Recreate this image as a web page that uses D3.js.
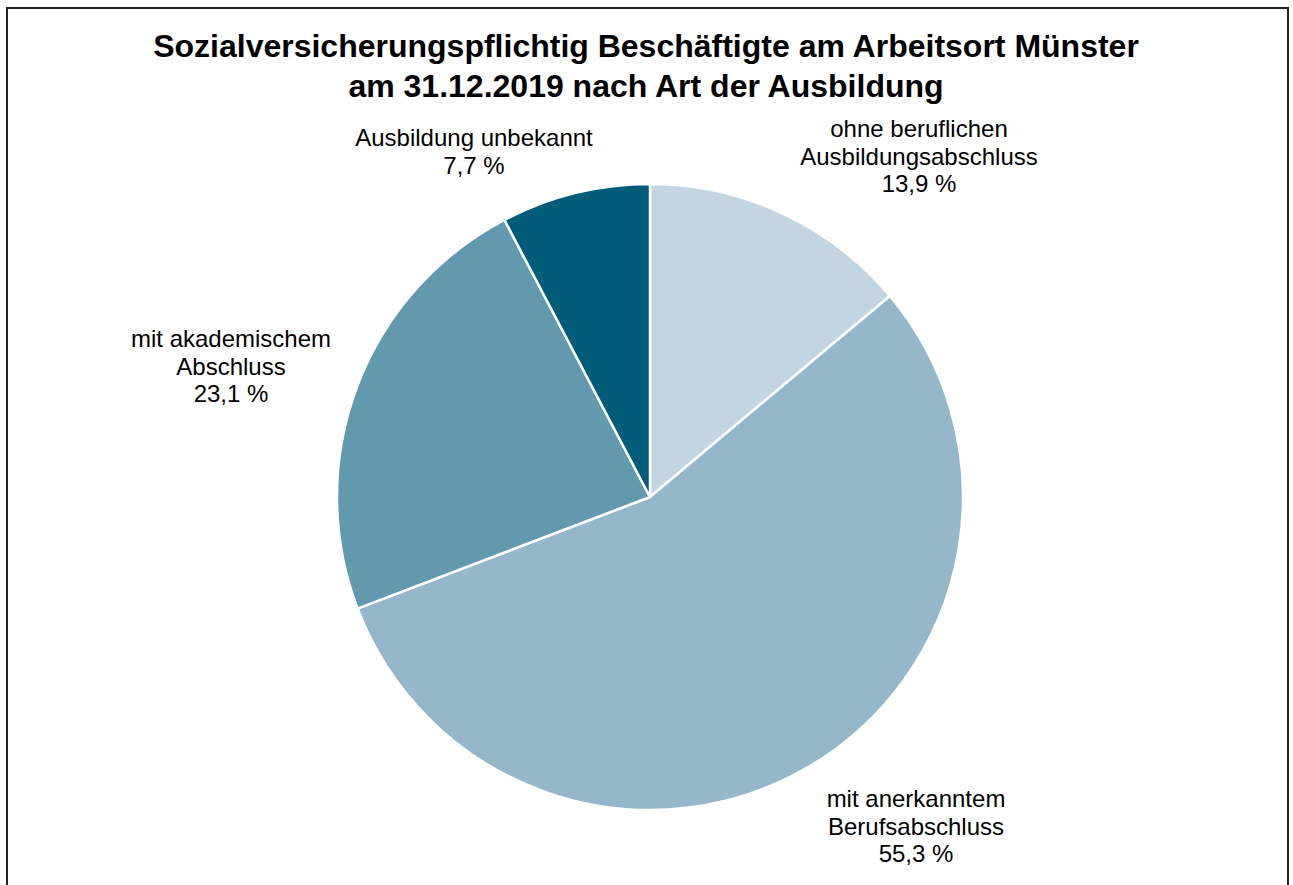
<!DOCTYPE html>
<html><head><meta charset="utf-8">
<script src="https://cdn.jsdelivr.net/npm/d3@7"></script>
<style>body{margin:0;background:#fff}svg{display:block}</style>
</head><body>
<svg id="c" width="1293" height="885"></svg>
<script>
const categories = ["ohne beruflichen Ausbildungsabschluss", "mit anerkanntem Berufsabschluss", "mit akademischem Abschluss", "Ausbildung unbekannt"];
const values = [13.9, 55.3, 23.1, 7.7];
const labelLines = [["ohne beruflichen", "Ausbildungsabschluss"], ["mit anerkanntem", "Berufsabschluss"], ["mit akademischem", "Abschluss"], ["Ausbildung unbekannt"]];
const colors = ["#C2D5E1", "#94B7C9", "#6299AF", "#005C78"];
const titleLines = ["Sozialversicherungspflichtig Beschäftigte am Arbeitsort Münster", "am 31.12.2019 nach Art der Ausbildung"];
// label anchor positions (center x, first line baseline y)
const labelPos = [[919, 137], [916, 807], [231, 347], [474, 146]];

const svg = d3.select("#c");
svg.append("rect").attr("x", 7).attr("y", 8).attr("width", 1281).attr("height", 900)
  .attr("fill", "#fff").attr("stroke", "#222").attr("stroke-width", 2);

svg.selectAll("text.title").data(titleLines).join("text").attr("class", "title")
  .attr("x", 646).attr("y", (d, i) => 57 + i * 40)
  .attr("text-anchor", "middle").attr("font-family", "Liberation Sans, Arial, sans-serif")
  .attr("font-weight", "bold").attr("font-size", 32).attr("fill", "#000").text(d => d);

const cx = 650, cy = 497, R = 313;
const pie = d3.pie().sort(null).value(d => d)(values);
const arc = d3.arc().innerRadius(0).outerRadius(R);
const g = svg.append("g").attr("transform", `translate(${cx},${cy})`);
g.selectAll("path").data(pie).join("path").attr("d", arc)
  .attr("fill", (d, i) => colors[i]).attr("stroke", "#fff").attr("stroke-width", 2.5).attr("stroke-linejoin", "round");

const fmt = v => d3.format(".1f")(v).replace(".", ",") + " %";
pie.forEach((p, i) => {
  const lines = labelLines[i].concat([fmt(values[i])]);
  const t = svg.append("text").attr("text-anchor", "middle")
    .attr("font-family", "Liberation Sans, Arial, sans-serif").attr("font-size", 24).attr("fill", "#000");
  lines.forEach((l, j) => {
    t.append("tspan").attr("x", labelPos[i][0]).attr("y", labelPos[i][1] + j * 27.5).text(l);
  });
});
</script>
</body></html>
